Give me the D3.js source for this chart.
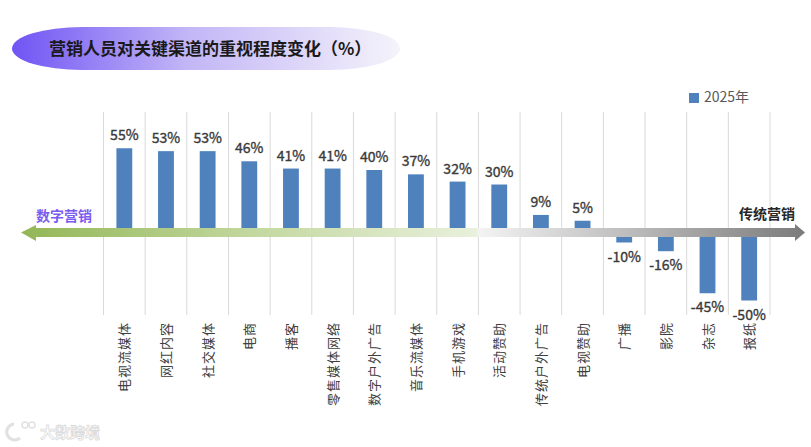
<!DOCTYPE html>
<html>
<head>
<meta charset="utf-8">
<script src="https://cdn.jsdelivr.net/npm/d3@7"></script>
<style>
  body { margin: 0; background: #fff; }
  text { font-family: "Noto Sans CJK SC", "Noto Sans", sans-serif; }
</style>
</head>
<body>
<div id="chart"></div>
<script>
var categories = ['电视流媒体', '网红内容', '社交媒体', '电商', '播客', '零售媒体网络', '数字户外广告',
  '音乐流媒体', '手机游戏', '活动赞助', '传统户外广告', '电视赞助', '广播', '影院', '杂志', '报纸'];
var values2025 = [55, 53, 53, 46, 41, 41, 40, 37, 32, 30, 9, 5, -10, -16, -45, -50];
var seriesName = '2025年';
var title = '营销人员对关键渠道的重视程度变化（%）';

var W = 811, H = 447;
var svg = d3.select('#chart').append('svg')
  .attr('width', W).attr('height', H);

var defs = svg.append('defs');

var tg = defs.append('linearGradient').attr('id', 'titleGrad');
tg.append('stop').attr('offset', '0%').attr('stop-color', '#7054f4');
tg.append('stop').attr('offset', '45%').attr('stop-color', '#c2b6f6');
tg.append('stop').attr('offset', '100%').attr('stop-color', '#f5f3fb');

var ag = defs.append('linearGradient').attr('id', 'arrowGrad');
ag.append('stop').attr('offset', '0%').attr('stop-color', '#93b657');
ag.append('stop').attr('offset', '30%').attr('stop-color', '#c3d8a0');
ag.append('stop').attr('offset', '58%').attr('stop-color', '#e9f0dc');
ag.append('stop').attr('offset', '58.5%').attr('stop-color', '#f3f3f3');
ag.append('stop').attr('offset', '100%').attr('stop-color', '#7b7b7b');

// title pill
svg.append('rect')
  .attr('x', 12).attr('y', 27).attr('width', 388).attr('height', 43)
  .attr('rx', 70).attr('ry', 21.5)
  .attr('fill', 'url(#titleGrad)');
svg.append('text')
  .attr('x', 49).attr('y', 55)
  .attr('font-size', '17px').attr('font-weight', 'bold')
  .attr('fill', '#1a1a1a')
  .text(title);

var x = d3.scaleBand()
  .domain(categories)
  .range([103.5, 770])
  .paddingInner(0.62).paddingOuter(0.31);

var y = d3.scaleLinear()
  .domain([-60, 80])
  .range([315, 112]);

// vertical grid lines at band edges
var step = x.step();
var edges = d3.range(categories.length + 1).map(function(i) { return 103.5 + i * step; });
svg.append('g').selectAll('line')
  .data(edges)
  .enter()
  .append('line')
  .attr('x1', function(d) { return d; })
  .attr('x2', function(d) { return d; })
  .attr('y1', y(80)).attr('y2', y(-60))
  .attr('stroke', '#d9d9d9').attr('stroke-width', 1);

// bars
svg.append('g').selectAll('rect')
  .data(values2025)
  .enter()
  .append('rect')
  .attr('x', function(d, i) { return x(categories[i]); })
  .attr('y', function(d) { return d >= 0 ? y(d) : y(0); })
  .attr('width', x.bandwidth())
  .attr('height', function(d) { return Math.abs(y(d) - y(0)); })
  .attr('fill', '#4f81bd');

// value labels
svg.append('g').selectAll('text')
  .data(values2025)
  .enter()
  .append('text')
  .attr('x', function(d, i) { return x(categories[i]) + x.bandwidth() / 2; })
  .attr('y', function(d) { return d >= 0 ? y(d) - 8 : y(d) + 19; })
  .attr('text-anchor', 'middle')
  .attr('font-size', '14px')
  .attr('fill', '#3a3a3a')
  .attr('stroke', '#3a3a3a').attr('stroke-width', 0.35)
  .text(function(d) { return d + '%'; });

// arrow across the zero line
var y0 = y(0);
svg.append('path')
  .attr('d', 'M21,' + (y0 + 4.5) + ' L36,' + (y0 - 3) + ' L36,' + y0 +
    ' L795,' + y0 + ' L795,' + (y0 - 4) + ' L805,' + (y0 + 4.5) +
    ' L795,' + (y0 + 13) + ' L795,' + (y0 + 9) + ' L36,' + (y0 + 9) +
    ' L36,' + (y0 + 13) + ' Z')
  .attr('fill', 'url(#arrowGrad)');

svg.append('text')
  .attr('x', 36).attr('y', 221)
  .attr('font-size', '14px').attr('font-weight', 'bold')
  .attr('fill', '#7b5cf0')
  .text('数字营销');
svg.append('text')
  .attr('x', 795).attr('y', 219)
  .attr('text-anchor', 'end')
  .attr('font-size', '14px').attr('font-weight', 'bold')
  .attr('fill', '#262626')
  .text('传统营销');

// category labels, rotated
svg.append('g').selectAll('text')
  .data(categories)
  .enter()
  .append('text')
  .attr('transform', function(d) {
    return 'translate(' + (x(d) + x.bandwidth() / 2 + 5) + ',322) rotate(-90)';
  })
  .attr('text-anchor', 'end')
  .attr('font-size', '13px')
  .attr('letter-spacing', '1px')
  .attr('fill', '#404040')
  .text(function(d) { return d; });

// legend
svg.append('rect')
  .attr('x', 689).attr('y', 93).attr('width', 10).attr('height', 10)
  .attr('fill', '#4f81bd');
svg.append('text')
  .attr('x', 704).attr('y', 102)
  .attr('font-size', '14px')
  .attr('fill', '#595959')
  .text(seriesName);

// watermark
var wm = svg.append('g').attr('opacity', 0.35);
wm.append('path')
  .attr('d', 'M14,424 A8,8 0 1 0 20,438')
  .attr('fill', 'none').attr('stroke', '#aaa').attr('stroke-width', 3);
wm.append('circle').attr('cx', 25).attr('cy', 425).attr('r', 3)
  .attr('fill', 'none').attr('stroke', '#aaa').attr('stroke-width', 1.5);
wm.append('circle').attr('cx', 32).attr('cy', 425).attr('r', 3)
  .attr('fill', 'none').attr('stroke', '#aaa').attr('stroke-width', 1.5);
wm.append('text')
  .attr('x', 40).attr('y', 438)
  .attr('font-size', '15px').attr('font-weight', 'bold')
  .attr('fill', '#fff').attr('stroke', '#999').attr('stroke-width', 0.8)
  .text('大数跨境');
</script>
</body>
</html>
